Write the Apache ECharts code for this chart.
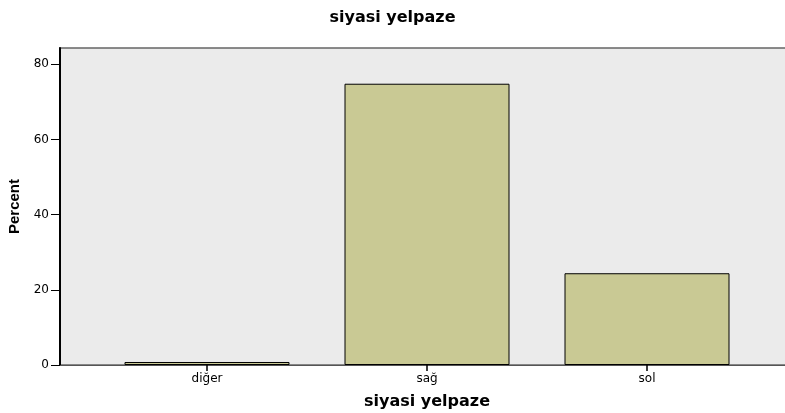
<!DOCTYPE html>
<html>
<head>
<meta charset="utf-8">
<script src="https://cdn.jsdelivr.net/npm/echarts@6/dist/echarts.min.js"></script>
<style>
  html,body{margin:0;padding:0;background:#fff;}
  #chart{width:785px;height:413px;}
</style>
</head>
<body>
<div id="chart"></div>
<script>
// DATA
const categories = ['diğer', 'sağ', 'sol'];
const percentValues = [0.8, 74.8, 24.4];
const yTicks = [0, 20, 40, 60, 80];

const chart = echarts.init(document.getElementById('chart'), null, { renderer: 'canvas' });

const yMax = 84.3;

chart.setOption({
  animation: false,
  title: {
    text: 'siyasi yelpaze',
    left: 'center',
    top: 5,
    textStyle: { fontFamily: 'DejaVu Sans', fontWeight: 'bold', fontSize: 16, color: '#000' }
  },
  grid: [
    // background frame + y axis
    { left: 60, right: -9, top: 48, bottom: 48, outerBoundsMode: 'none', containLabel: false,
      show: true, backgroundColor: '#ebebeb', borderColor: '#666', borderWidth: 1.5 },
    // bars, inset like SPSS does
    { left: 97, right: 28, top: 48, bottom: 48, outerBoundsMode: 'none', containLabel: false }
  ],
  xAxis: [
    {
      gridIndex: 0, type: 'value', min: 0, max: 1,
      axisLine: { show: true, lineStyle: { color: '#555', width: 1 } },
      axisTick: { show: false }, axisLabel: { show: false }, splitLine: { show: false }
    },
    {
      gridIndex: 1, type: 'category', data: categories,
      axisLine: { show: false },
      axisTick: { show: true, alignWithLabel: true, length: 6, lineStyle: { color: '#000', width: 1.5 } },
      axisLabel: { fontFamily: 'DejaVu Sans', fontSize: 12, color: '#000', margin: 8 },
      name: 'siyasi yelpaze', nameLocation: 'middle', nameGap: 29,
      nameTextStyle: { fontFamily: 'DejaVu Sans', fontWeight: 'bold', fontSize: 16, color: '#000' }
    }
  ],
  yAxis: [
    {
      gridIndex: 0, type: 'value', min: 0, max: yMax, interval: 20,
      axisLine: { show: true, lineStyle: { color: '#000', width: 2 } },
      axisTick: { show: true, length: 9, customValues: yTicks, lineStyle: { color: '#000', width: 1 } },
      axisLabel: {
        fontFamily: 'DejaVu Sans', fontSize: 12, color: '#000', margin: 11,
        customValues: yTicks
      },
      splitLine: { show: false },
      name: 'Percent', nameLocation: 'middle', nameGap: 36, nameRotate: 90,
      nameTextStyle: { fontFamily: 'Liberation Sans Narrow, Liberation Sans', fontWeight: 'bold', fontSize: 15, color: '#000' }
    },
    {
      gridIndex: 1, type: 'value', min: 0, max: yMax, show: false
    }
  ],
  series: [{
    type: 'bar',
    xAxisIndex: 1, yAxisIndex: 1,
    data: percentValues,
    barWidth: '75%',
    itemStyle: { color: '#c9c994', borderColor: '#000', borderWidth: 1 }
  }]
});
</script>
</body>
</html>
